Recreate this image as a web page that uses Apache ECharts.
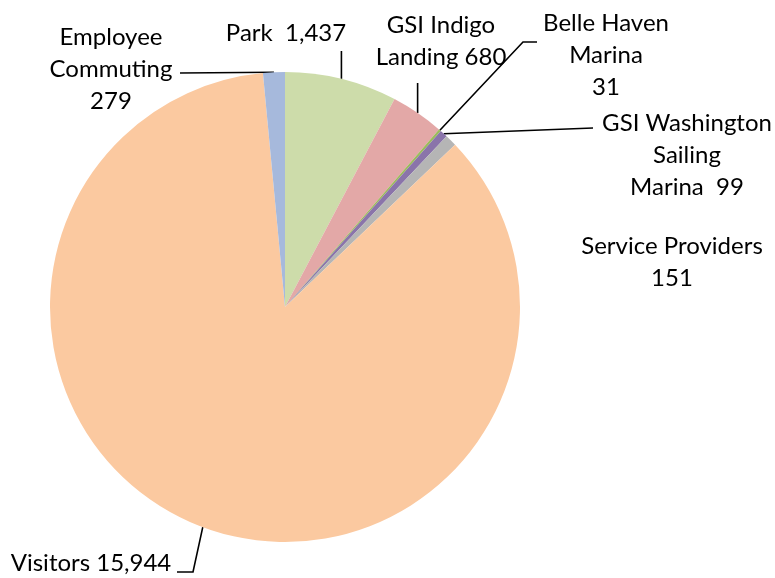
<!DOCTYPE html>
<html>
<head>
<meta charset="utf-8">
<script src="https://cdn.jsdelivr.net/npm/echarts@6/dist/echarts.min.js"></script>
<style>
html,body{margin:0;padding:0;background:#fff;}
#chart{width:775px;height:578px;}
</style>
</head>
<body>
<div id="chart"></div>
<script>
// ---- data ----
var categories = ['Park', 'GSI Indigo Landing', 'Belle Haven Marina', 'GSI Washington Sailing Marina', 'Service Providers', 'Visitors', 'Employee Commuting'];
var values = [1437, 680, 31, 99, 151, 15944, 279];
var labelTemplates = ['Park  {v}', 'GSI Indigo\nLanding {v}', 'Belle Haven\nMarina\n{v}', 'GSI Washington\nSailing\nMarina  {v}', 'Service Providers\n{v}', 'Visitors {v}', 'Employee\nCommuting\n{v}'];
var colors = ['#cddcaa', '#e3a8a7', '#9bbb59', '#8a74aa', '#b5b5b5', '#fbc9a0', '#a6b9dc'];

// ---- label layout (positions of texts and leader-line bends) ----
var labelPlaces = [
  {x: 286, y: 33, line: [[0, 51]], lineXFromEdge: true},
  {x: 441, y: 41, line: [[0, 83]], lineXFromEdge: true},
  {x: 606, y: 55, line: [[523, 42], [537, 42]]},
  {x: 687, y: 155, line: [[593, 128]]},
  {x: 672, y: 262, line: null},
  {x: 91, y: 563, line: [[193, 572], [177, 572]]},
  {x: 111, y: 69, line: [[180, 73]]}
];

var chart = echarts.init(document.getElementById('chart'), null, {renderer: 'canvas'});
var data = categories.map(function (c, i) {
  return {name: c, value: values[i], itemStyle: {color: colors[i]}};
});

chart.setOption({
  animation: false,
  backgroundColor: '#ffffff',
  series: [{
    type: 'pie',
    center: [285, 307],
    radius: 235,
    startAngle: 90,
    clockwise: true,
    avoidLabelOverlap: false,
    data: data,
    itemStyle: {borderWidth: 0},
    emphasis: {disabled: true},
    label: {
      show: true,
      position: 'outside',
      fontFamily: 'Lato',
      fontSize: 24,
      lineHeight: 32,
      color: '#000',
      align: 'center',
      formatter: function (p) {
        return labelTemplates[p.dataIndex].replace('{v}', values[p.dataIndex].toLocaleString('en-US'));
      }
    },
    labelLine: {
      show: true,
      length: 10,
      length2: 10,
      lineStyle: {color: '#000', width: 1.6}
    },
    labelLayout: function (params) {
      var pl = labelPlaces[params.dataIndex];
      var res = {x: pl.x, y: pl.y, align: 'center', verticalAlign: 'middle'};
      var edge = params.labelLinePoints ? params.labelLinePoints[0] : null;
      if (edge) {
        var pts = [edge.slice()];
        if (pl.line) {
          pl.line.forEach(function (q) {
            pts.push(pl.lineXFromEdge ? [edge[0], q[1]] : q.slice());
          });
        } else {
          pts.push(edge.slice());
        }
        while (pts.length < 3) pts.push(pts[pts.length - 1].slice());
        res.labelLinePoints = pts;
      }
      return res;
    }
  }]
});
</script>
</body>
</html>
